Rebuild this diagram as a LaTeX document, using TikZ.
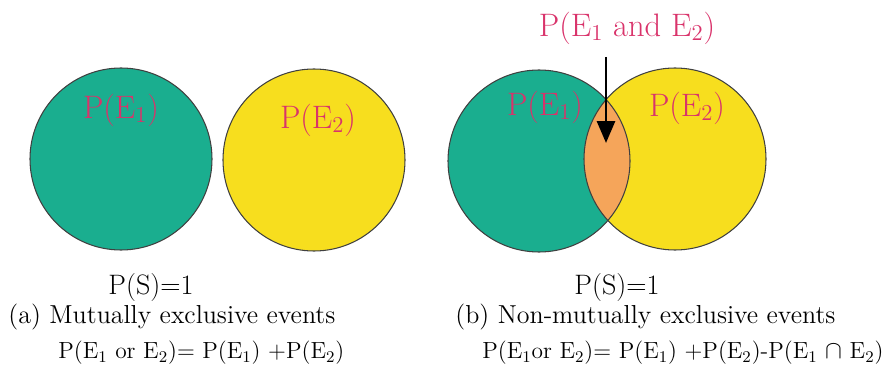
\documentclass[tikz,border=0pt]{standalone}
\usetikzlibrary{arrows.meta,positioning}

\definecolor{evgreen}{HTML}{1AAE8F}
\definecolor{evyellow}{HTML}{F7DE1E}
\definecolor{evorange}{HTML}{F5A55A}
\definecolor{evred}{HTML}{D9336B}

\begin{document}
\begin{tikzpicture}[
    x=0.02cm, y=-0.02cm,
    rim/.style={draw=black!75, line width=0.6pt},
    evlab/.style={text=evred, font=\fontsize{18.5}{21}\selectfont, inner sep=0pt},
    total/.style={font=\fontsize{16}{20}\selectfont, inner sep=0pt},
    capt/.style={font=\fontsize{14.8}{18}\selectfont, inner sep=0pt, anchor=west},
    rule/.style={font=\fontsize{13.3}{16}\selectfont, inner sep=0pt, anchor=west},
    pointer/.style={-{Triangle[length=0.44cm, width=0.36cm]}, line width=1.7pt}
  ]
    \useasboundingbox (0,0) rectangle (890,371);

    % (a) mutually exclusive
    \fill[evgreen] (121,159) circle (91);
    \fill[evyellow] (314,160) circle (91);
    \draw[rim] (121,159) circle (91);
    \draw[rim] (314,160) circle (91);
    \node[evlab] (a1) at (121,110) {P(E\textsubscript{1})};
    \node[evlab] (a2) at (318,120) {P(E\textsubscript{2})};
    \node[total] (sa) at (151,287) {P(S)=1};
    \node[capt] (capa) at (8,317) {(a) Mutually exclusive events};
    \node[rule] (fa) at (58,353) {P(E\textsubscript{1} or E\textsubscript{2})= P(E\textsubscript{1}) +P(E\textsubscript{2})};

    % (b) non-mutually exclusive
    \fill[evgreen] (539,161) circle (91);
    \fill[evyellow] (675,159) circle (91);
    \begin{scope}
      \clip (539,161) circle (91);
      \fill[evorange] (675,159) circle (91);
    \end{scope}
    \draw[rim] (539,161) circle (91);
    \draw[rim] (675,159) circle (91);
    \node[evlab] (b1) at (545,107) {P(E\textsubscript{1})};
    \node[evlab] (b2) at (687,108) {P(E\textsubscript{2})};
    \node[evlab] (both) at (627,28) {P(E\textsubscript{1} and E\textsubscript{2})};
    \coordinate (tail) at (606,57);
    \coordinate (tip) at (606,143);
    \draw[pointer] (tail) -- (tip);
    \node[total] (sb) at (617,287) {P(S)=1};
    \node[capt] (capb) at (455,317) {(b) Non-mutually exclusive events};
    \node[rule] (fb) at (482,353) {P(E\textsubscript{1}or E\textsubscript{2})= P(E\textsubscript{1}) +P(E\textsubscript{2})-P(E\textsubscript{1} $\cap$ E\textsubscript{2})};
  \end{tikzpicture}
\end{document}
